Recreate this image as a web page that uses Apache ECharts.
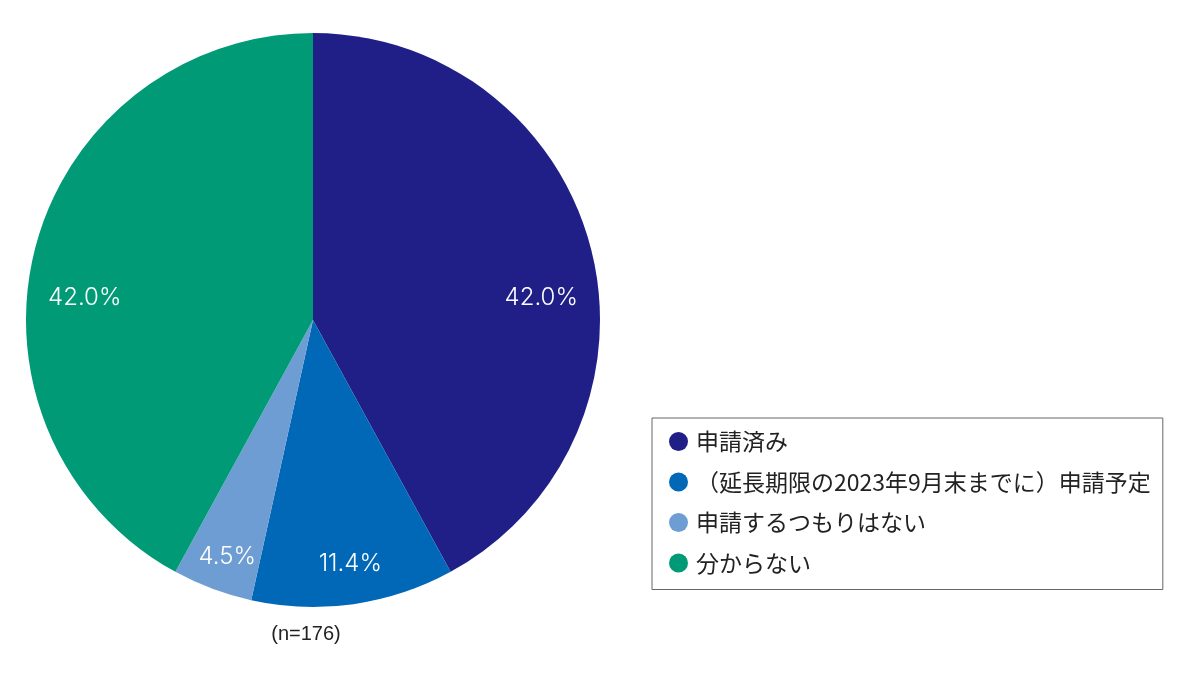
<!DOCTYPE html>
<html>
<head>
<meta charset="utf-8">
<script src="https://cdn.jsdelivr.net/npm/echarts@6/dist/echarts.min.js"></script>
<style>
  html, body { margin: 0; padding: 0; background: #fff; }
  #main { width: 1200px; height: 684px; }
</style>
</head>
<body>
<div id="main"></div>
<script>
// 数据
var categories = ['申請済み', '（延長期限の2023年9月末までに）申請予定', '申請するつもりはない', '分からない'];
var values = [42.0, 11.4, 4.5, 42.0];
var colors = ['#1f1f87', '#0068b7', '#6d9dd3', '#009b76'];
var sampleNote = '(n=176)';

var fontFamily = '"Noto Sans CJK JP", "Noto Sans", sans-serif';

var chart = echarts.init(document.getElementById('main'));

var pieData = categories.map(function (name, i) {
    return { name: name, value: values[i], itemStyle: { color: colors[i] } };
});
// 标签用的透明环
var labelData = categories.map(function (name, i) {
    return { name: name, value: values[i], itemStyle: { color: 'rgba(0,0,0,0)' } };
});

var option = {
    animation: false,
    title: {
        text: sampleNote,
        left: 301,
        top: 619,
        textAlign: 'center',
        textStyle: { fontFamily: '"Liberation Sans", Arial, sans-serif', fontSize: 20, fontWeight: 'normal', color: '#222' }
    },
    legend: {
        orient: 'vertical',
        left: 652,
        top: 418,
        data: categories,
        icon: 'circle',
        itemWidth: 19,
        itemHeight: 19,
        itemGap: 17.5,
        padding: [12, 12, 15, 17],
        borderColor: '#666',
        borderWidth: 1,
        selectedMode: false,
        textStyle: { fontFamily: fontFamily, fontSize: 23, color: '#222', padding: [0, 0, 0, 3] }
    },
    series: [
        {
            type: 'pie',
            name: 'main',
            center: [313, 320],
            radius: [0, 287],
            startAngle: 90,
            clockwise: true,
            silent: true,
            label: { show: false },
            labelLine: { show: false },
            data: pieData
        },
        {
            type: 'pie',
            name: 'labels',
            center: [313, 320],
            radius: [207, 287],
            startAngle: 90,
            clockwise: true,
            silent: true,
            label: {
                show: true,
                position: 'inside',
                formatter: function (p) { return p.value.toFixed(1) + '%'; },
                color: '#fff',
                fontFamily: 'Inter, "Noto Sans", sans-serif',
                fontSize: 24,
                fontWeight: 300
            },
            labelLine: { show: false },
            // 大的扇形标签往水平方向挪一点
            labelLayout: function (params) {
                if (params.dataIndex === 0) return { dx: -14, dy: 40 };
                if (params.dataIndex === 3) return { dx: 14, dy: 40 };
                if (params.dataIndex === 1) return { dx: 2, dy: -4 };
                if (params.dataIndex === 2) return { dx: 2, dy: 3 };
                return {};
            },
            data: labelData
        }
    ]
};

chart.setOption(option);
</script>
</body>
</html>
